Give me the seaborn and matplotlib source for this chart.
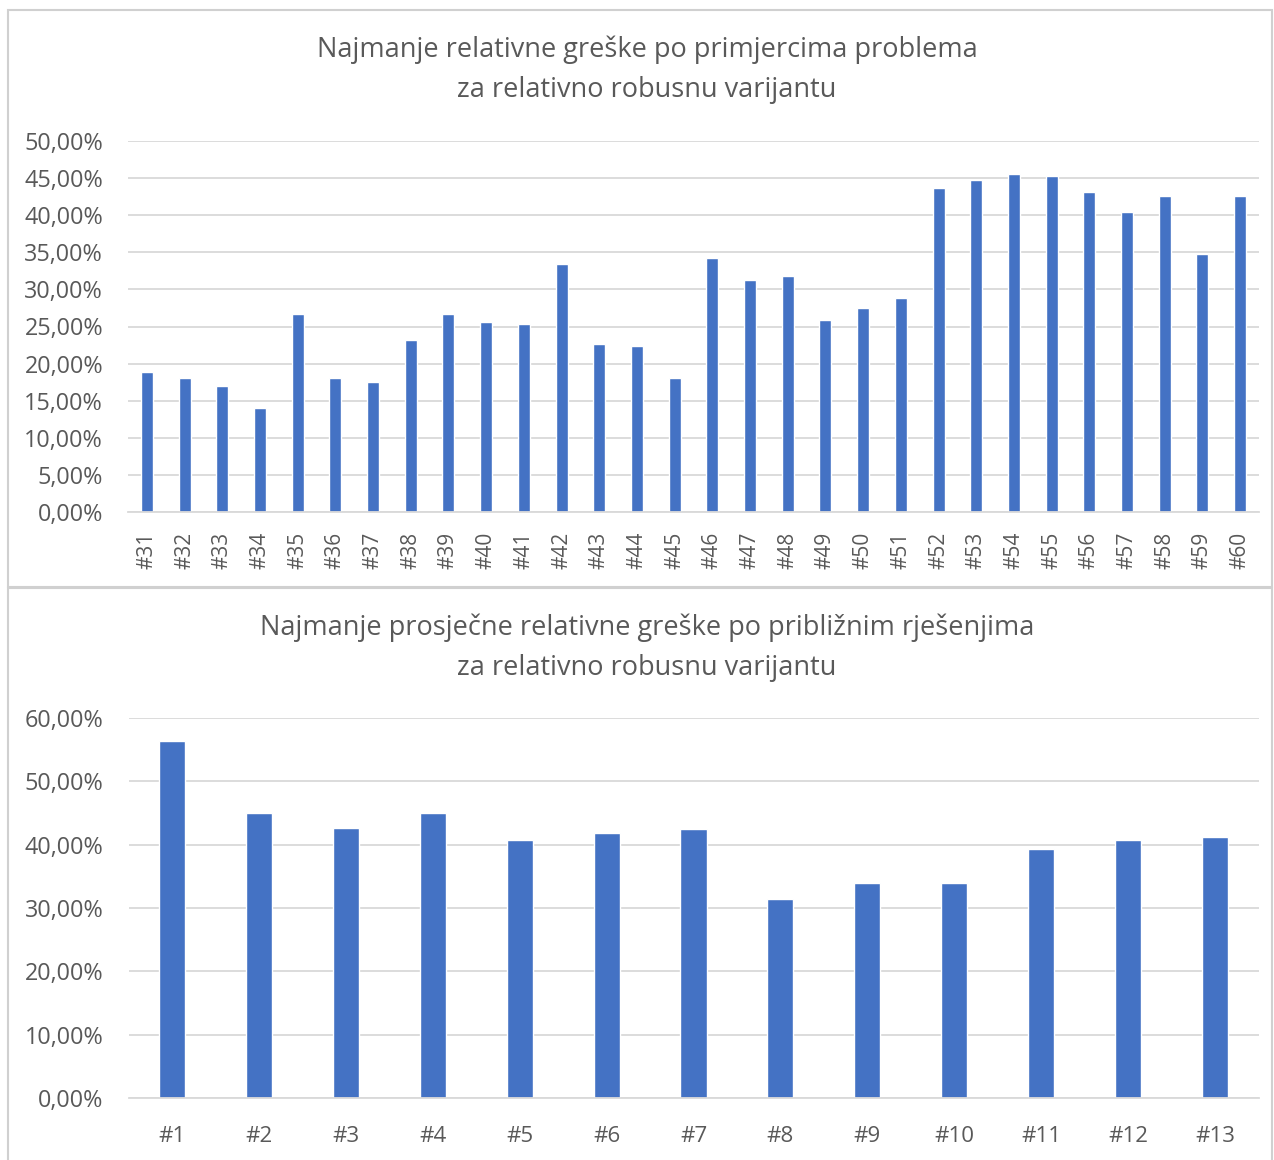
import matplotlib
matplotlib.use('Agg')
import matplotlib.pyplot as plt
import matplotlib.ticker as mticker
import seaborn as sns
import pandas as pd
from matplotlib.patches import Rectangle

# podaci - gornji graf (primjerci problema #31 - #60)
primjerci = ['#' + str(i) for i in range(31, 61)]
greske_primjerci = [18.9, 18.1, 17.0, 14.0, 26.7, 18.1, 17.5, 23.2, 26.7, 25.6,
                    25.3, 33.4, 22.7, 22.4, 18.1, 34.2, 31.3, 31.8, 25.9, 27.5,
                    28.9, 43.6, 44.7, 45.5, 45.3, 43.1, 40.4, 42.6, 34.8, 42.6]

# podaci - donji graf (približna rješenja #1 - #13)
rjesenja = ['#' + str(i) for i in range(1, 14)]
greske_rjesenja = [56.3, 45.0, 42.7, 45.0, 40.8, 41.8, 42.4, 31.4, 33.9, 33.9,
                   39.3, 40.8, 41.2]

naslov_gore = 'Najmanje relativne greške po primjercima problema\nza relativno robusnu varijantu'
naslov_dolje = 'Najmanje prosječne relativne greške po približnim rješenjima\nza relativno robusnu varijantu'

df_gore = pd.DataFrame({'primjer': primjerci, 'greska': greske_primjerci})
df_dolje = pd.DataFrame({'rjesenje': rjesenja, 'greska': greske_rjesenja})

sns.set_style('white')
plt.rcParams['font.family'] = ['Open Sans', 'DejaVu Sans']

plava = '#4472C4'
siva_tekst = '#595959'
siva_grid = '#d9d9d9'

W, H = 1274, 1160
fig = plt.figure(figsize=(W / 100, H / 100), dpi=100)
fig.patch.set_facecolor('white')

# okviri grafova
for (y0, y1) in [(10, 587), (588, 1170)]:
    fig.patches.append(Rectangle((8 / W, 1 - y1 / H), (1264) / W, (y1 - y0) / H,
                                 transform=fig.transFigure, fill=False,
                                 edgecolor='#d0d0d0', linewidth=1.5))


def pct_fmt(v, pos):
    return f'{v:.2f}'.replace('.', ',') + '%'


def uredi_os(ax, ymax, step):
    ax.set_ylim(0, ymax)
    ax.yaxis.set_major_locator(mticker.MultipleLocator(step))
    ax.yaxis.set_major_formatter(mticker.FuncFormatter(pct_fmt))
    ax.grid(axis='y', color=siva_grid, linewidth=1.3)
    ax.set_axisbelow(True)
    for s in ['top', 'right', 'left']:
        ax.spines[s].set_visible(False)
    ax.spines['bottom'].set_color(siva_grid)
    ax.spines['bottom'].set_linewidth(1.3)
    ax.tick_params(axis='both', length=0, colors=siva_tekst)
    ax.tick_params(axis='y', labelsize=16.8, pad=18)
    ax.set_xlabel('')
    ax.set_ylabel('')


# gornji graf
ax1 = fig.add_axes([128 / W, 1 - 512 / H, 1131 / W, 371 / H])
sns.barplot(data=df_gore, x='primjer', y='greska', color=plava, width=0.32,
            saturation=1, ax=ax1)
uredi_os(ax1, 50, 5)
ax1.tick_params(axis='x', pad=14, labelsize=15)
plt.setp(ax1.get_xticklabels(), rotation=90)
fig.text(647 / W, 1 - 70 / H, naslov_gore, ha='center', va='center',
         fontsize=19.5, color=siva_tekst, linespacing=1.55)

# donji graf
ax2 = fig.add_axes([128.5 / W, 1 - 1098 / H, 1130 / W, 380 / H])
sns.barplot(data=df_dolje, x='rjesenje', y='greska', color=plava, width=0.3,
            saturation=1, ax=ax2)
uredi_os(ax2, 60, 10)
ax2.tick_params(axis='x', pad=20, labelsize=16)
fig.text(647 / W, 1 - 648 / H, naslov_dolje, ha='center', va='center',
         fontsize=19.5, color=siva_tekst, linespacing=1.55)

plt.savefig('out.png', dpi=100, facecolor='white')
